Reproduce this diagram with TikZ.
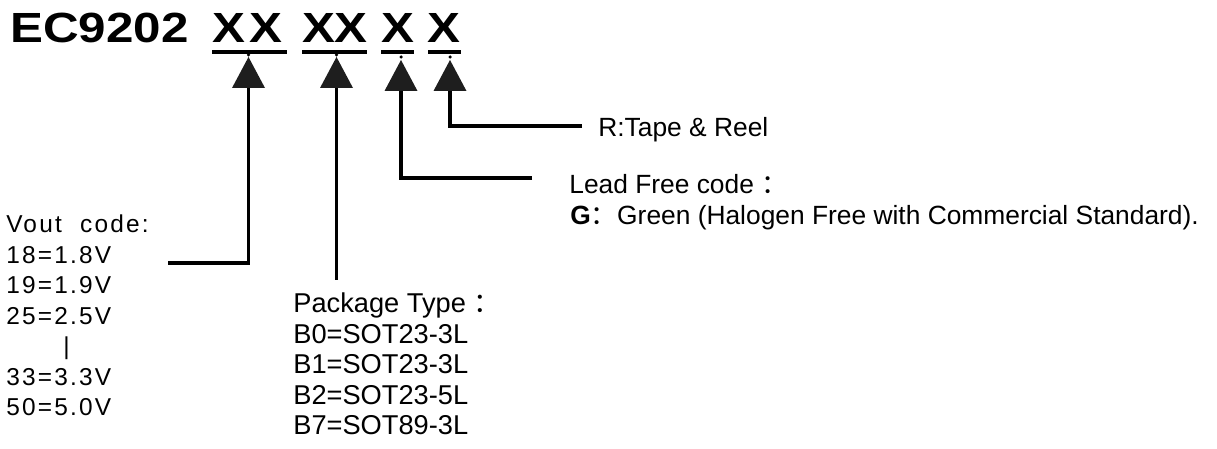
\documentclass[tikz,border=0pt]{standalone}
\usepackage{fontspec}
\setmainfont{Liberation Sans}
\newfontfamily\titlefont[FakeStretch=1.17]{Liberation Sans}
\newfontfamily\voutfont[LetterSpace=9]{Liberation Sans}
\newfontfamily\cjkfont{Noto Sans CJK SC}
\newcommand{\fwcolon}{{\cjkfont ：}}
\usetikzlibrary{arrows.meta}
\definecolor{ECTip}{HTML}{1E1E1E}

\begin{document}
\begin{tikzpicture}[x=1cm,y=1cm,
  titletext/.style={font=\titlefont\bfseries\fontsize{24}{24}\selectfont,inner sep=0pt},
  codetext/.style={font=\voutfont\fontsize{13.9}{16}\selectfont,inner sep=0pt,anchor=base west},
  pkgtext/.style={font=\fontsize{15.5}{18}\selectfont,inner sep=0pt,anchor=base west},
  notetext/.style={font=\fontsize{15}{18}\selectfont,inner sep=0pt,anchor=base west},
  lead/.style={line width=0.065cm,-{Triangle[width=0.66cm,length=0.62cm,line width=0pt,color=ECTip]}}]
\path[use as bounding box] (0,0) rectangle (24.34,8.98);
% part number
\node[titletext,anchor=base west] (part) at (0.20,8.12) {EC9202};
\foreach \xc [count=\i] in {4.58,5.32,6.38,7.02,7.95,8.88}
  \node[titletext,anchor=base] (x\i) at (\xc,8.12) {X};
\fill (4.24,7.90) rectangle (5.74,7.98);
\fill (6.04,7.90) rectangle (7.34,7.98);
\fill (7.62,7.90) rectangle (8.28,7.98);
\fill (8.56,7.90) rectangle (9.22,7.98);
% arrow tips
\coordinate (tip1) at (4.97,7.84);
\coordinate (tip2) at (6.73,7.84);
\coordinate (tip3) at (8.02,7.78);
\coordinate (tip4) at (9.00,7.78);
\fill (4.97,7.88) circle (0.035);
\fill (6.73,7.88) circle (0.035);
\fill (8.02,7.84) circle (0.035);
\fill (9.00,7.84) circle (0.035);
% connectors
\coordinate (voutend) at (3.36,3.72);
\coordinate (pkgend) at (6.73,3.38);
\coordinate (leadend) at (10.64,5.42);
\coordinate (reelend) at (11.64,6.46);
\draw[lead] (voutend) -| (tip1);
\draw[lead] (pkgend) -- (tip2);
\draw[lead] (leadend) -| (tip3);
\draw[lead] (reelend) -| (tip4);
% Vout code
\foreach \dx/\txt [count=\i] in {0/{Vout\hspace{0.75em}code:},0/{18=1.8V},0/{19=1.9V},0/{25=2.5V},1.14/{|},0/{33=3.3V},0/{50=5.0V}}
  \node[codetext] (vout\i) at ({0.12+\dx},{4.32-0.61*(\i-1)}) {\txt};
% package type
\foreach \txt [count=\i] in {{Package Type \fwcolon},B0=SOT23-3L,B1=SOT23-3L,B2=SOT23-5L,B7=SOT89-3L}
  \node[pkgtext] (pkg\i) at ({5.86},{2.72-0.61*(\i-1)}) {\txt};
% lead free and packing
\node[notetext] (reel) at (11.96,6.24) {R:Tape \& Reel};
\node[notetext] (leadfree) at (11.38,5.10) {Lead Free code \fwcolon};
\node[notetext] (green) at (11.40,4.48) {\textbf{G}\fwcolon Green (Halogen Free with Commercial Standard).};
\end{tikzpicture}
\end{document}
